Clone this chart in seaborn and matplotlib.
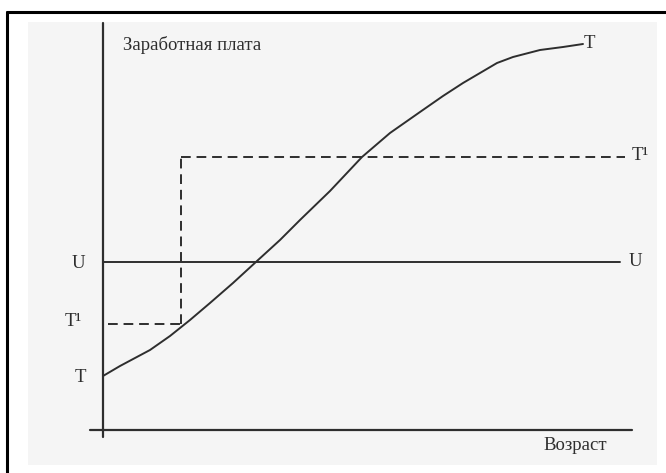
import matplotlib
matplotlib.use("Agg")
import matplotlib.pyplot as plt
import seaborn as sns
import pandas as pd
from matplotlib.patches import Rectangle
from matplotlib.lines import Line2D

# ---- data (arbitrary units: age from the wage axis, wage above the age axis) ----
curve_age = [0, 17, 47, 67, 87, 107, 130, 154, 177, 197, 227, 259, 287, 317, 340, 360, 394, 410, 437, 460, 480]
curve_wage = [54, 64, 80, 94, 110, 127, 147, 169, 190, 210, 239, 273, 297, 318, 334, 347, 367, 373, 380, 383, 386]
u_level = 168
t1_low = 106
t1_high = 273
t1_switch_age = 78
age_end = 517
t1_end = 522

label_y = "Заработная плата"
label_x = "Возраст"

sns.set_theme(style="white")
plt.rcParams['font.family'] = ['Liberation Serif', 'DejaVu Serif']

fig = plt.figure(figsize=(6.66, 4.73), dpi=100)
fig.patch.set_facecolor("white")

# paper background and frame (figure fraction)
W, H = 666, 473
fig.add_artist(Rectangle((28 / W, 1 - 465 / H), (657 - 28) / W, (465 - 22) / H,
                         transform=fig.transFigure, facecolor="#f5f5f5", edgecolor="none", zorder=0))
fig.add_artist(Line2D([7 / W, 7 / W], [0, 1 - 12 / H], transform=fig.transFigure, color="black", lw=2.2))
fig.add_artist(Line2D([7 / W, 1], [1 - 12 / H, 1 - 12 / H], transform=fig.transFigure, color="black", lw=2.2))

ax = fig.add_axes([0, 0, 1, 1])
ax.set_xlim(-103, 563)
ax.set_ylim(-43, 430)
ax.patch.set_alpha(0)

ink = "#2e2e2e"

# axes of the chart
ax.plot([0, 0], [-7, 407], color=ink, lw=1.6)
ax.plot([-13, 529], [0, 0], color=ink, lw=1.6)

# U line
ax.plot([0, age_end], [u_level, u_level], color=ink, lw=1.4)

# T' step (dashed)
dash = dict(color=ink, lw=1.4, linestyle=(0, (5, 3)))
ax.plot([5, t1_switch_age], [t1_low, t1_low], **dash)
ax.plot([t1_switch_age, t1_switch_age], [t1_low, t1_high], **dash)
ax.plot([t1_switch_age, t1_end], [t1_high, t1_high], **dash)

# T curve
df = pd.DataFrame({"age": curve_age, "wage": curve_wage})
sns.lineplot(data=df, x="age", y="wage", ax=ax, color=ink, lw=1.4, sort=False)
ax.set_xlabel("")
ax.set_ylabel("")
ax.axis("off")

fs = 13.5
txt = dict(color=ink, fontsize=fs, va="center")
ax.text(20, 385, label_y, ha="left", **txt)
ax.text(440, -15, label_x, ha="left", **txt)
ax.text(-25, 166, "U", ha="center", **txt)
ax.text(532, 168, "U", ha="center", **txt)
ax.text(-30, 108, "T¹", ha="center", **txt)
ax.text(537, 274, "T¹", ha="center", **txt)
ax.text(-23, 52, "T", ha="center", **txt)
ax.text(486, 386, "T", ha="center", **txt)

fig.savefig("out.png", dpi=100)
